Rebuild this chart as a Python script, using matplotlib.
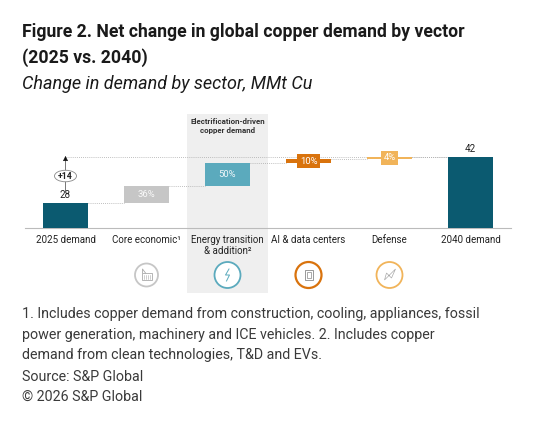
import matplotlib
matplotlib.use("Agg")
import matplotlib.pyplot as plt
from matplotlib.patches import Rectangle, Circle, Polygon, Ellipse
import numpy as np

# ---------------- data ----------------
categories = ["2025 demand", "Core economic\u00b9", "Energy transition\n& addition\u00b2",
              "AI & data centers", "Defense", "2040 demand"]
start_value = 28
end_value = 42
shares_pct = [36, 50, 10, 4]          # share of the net change, per vector
share_labels = ["36%", "50%", "10%", "4%"]
change_label = "+14"

title_lines = ["Figure 2. Net change in global copper demand by vector", "(2025 vs. 2040)"]
subtitle = "Change in demand by sector, MMt Cu"
band_label = "Electrification-driven\ncopper demand"
foot_lines = [
    "1. Includes copper demand from construction, cooling, appliances, fossil",
    "power generation, machinery and ICE vehicles. 2. Includes copper",
    "demand from clean technologies, T&D and EVs.",
    "Source: S&P Global",
    "\u00a9 2026 S&P Global",
]

# ---------------- style ----------------
W, H = 551, 422
DARK = "#0B5A70"
GREY = "#C6C6C6"
TEAL = "#5BAABD"
ORANGE = "#D9730D"
LORANGE = "#F1B45A"
step_colors = [GREY, TEAL, ORANGE, LORANGE]
FONT = "Roboto"

fig = plt.figure(figsize=(W / 100, H / 100), dpi=100)
fig.patch.set_facecolor("white")

def fx(px):
    return px / W

def fy(py):
    return 1 - py / H

# overlay in pixel coordinates
ov = fig.add_axes([0, 0, 1, 1], zorder=0)
ov.set_xlim(0, W)
ov.set_ylim(H, 0)
ov.axis("off")

# main axes
ax_l, ax_r, ax_t, ax_b = 25, 511, 110, 228
ax = fig.add_axes([fx(ax_l), fy(ax_b), (ax_r - ax_l) / W, (ax_b - ax_t) / H], zorder=2)
ax.patch.set_visible(False)
px_per_unit = 3.29
ylo = 20.4
ax.set_ylim(ylo, ylo + (ax_b - ax_t) / px_per_unit)
n = len(categories)
ax.set_xlim(-0.5, n - 0.5)
cat_w = (ax_r - ax_l) / n

def cat_px(i):
    return ax_l + cat_w * (i + 0.5)

# grey band behind energy transition
band_i = 2
ov.add_patch(Rectangle((cat_px(band_i) - cat_w / 2, 114), cat_w, 293 - 114,
                       facecolor="#EFEFEF", edgecolor="none", zorder=0))
ov.text(cat_px(band_i), 118, band_label, ha="center", va="top", fontsize=5.7,
        fontweight="bold", color="#333333", family=FONT, linespacing=1.35)

# waterfall
bw = 0.55
total_change = end_value - start_value
steps = [total_change * s / 100 for s in shares_pct]
ax.bar(0, start_value, width=bw, color=DARK, zorder=3)
ax.bar(n - 1, end_value, width=bw, color=DARK, zorder=3)
level = start_value
levels = [start_value]
for k, (st, c, lab) in enumerate(zip(steps, step_colors, share_labels)):
    i = k + 1
    ax.bar(i, st, bottom=level, width=bw, color=c, zorder=3)
    mid = level + st / 2
    if st > 3:
        ax.text(i, mid, lab, ha="center", va="center", color="white", alpha=0.9,
                fontsize=6.8, family=FONT, zorder=4)
    else:
        ax.text(i, mid, lab, ha="center", va="center", color="white",
                fontsize=6.8, family=FONT, zorder=4,
                bbox=dict(boxstyle="square,pad=0.25", facecolor=c, edgecolor="none"))
    level += st
    levels.append(level)

# dotted connectors
for i in range(n - 1):
    ax.plot([i + bw / 2, i + 1 - bw / 2], [levels[i], levels[i]], color="#AAAAAA",
            lw=0.6, ls=(0, (1, 1.5)), zorder=2)
ax.plot([0, n - 1 - bw / 2], [end_value, end_value], color="#AAAAAA",
        lw=0.6, ls=(0, (1, 1.5)), zorder=2)

# value labels
ax.text(0, start_value + 0.9, str(start_value), ha="center", va="bottom",
        fontsize=7, family=FONT, color="#222222")
ax.text(n - 1, end_value + 1.0, str(end_value), ha="center", va="bottom",
        fontsize=7, family=FONT, color="#222222")

# arrow and +14 badge
ax.annotate("", xy=(0, end_value + 0.3), xytext=(0, start_value + 3.6),
            arrowprops=dict(arrowstyle="-|>,head_length=0.3,head_width=0.15",
                            color="#111111", lw=0.4, shrinkA=0, shrinkB=0), zorder=3)
badge_y = (start_value + end_value) / 2 + 1.2
ax.add_patch(Ellipse((0, badge_y), 22 / cat_w, 11.5 / px_per_unit, facecolor="white",
                     edgecolor="#888888", lw=0.6, zorder=5))
ax.text(0, badge_y, change_label, ha="center", va="center",
        fontsize=6.3, fontweight="bold", family=FONT, color="#222222", zorder=6)

# axes styling
for s in ["left", "right", "top"]:
    ax.spines[s].set_visible(False)
ax.spines["bottom"].set_color("#BBBBBB")
ax.spines["bottom"].set_linewidth(0.8)
ax.set_yticks([])
ax.set_xticks(range(n))
ax.set_xticklabels(categories, fontsize=7, family=FONT, color="#222222", linespacing=1.1)
ax.tick_params(axis="x", length=0, pad=5)

# icons
icon_y = 275
icon_r = 13
icon_cols = [GREY, TEAL, ORANGE, LORANGE]
icon_lws = [1.3, 1.3, 1.6, 1.3]
for k, (c, lw) in enumerate(zip(icon_cols, icon_lws)):
    cx = cat_px(k + 1)
    r = icon_r if k else 11.5
    ov.add_patch(Circle((cx, icon_y), r, facecolor="white", edgecolor=c, lw=lw, zorder=2))
    g = "#AAAAAA"
    if k == 0:  # building
        ov.add_patch(Rectangle((cx - 5, icon_y - 2), 10, 7, fill=False, edgecolor=g, lw=0.6, zorder=3))
        ov.plot([cx - 4, cx - 4, cx - 1], [icon_y - 2, icon_y - 6, icon_y - 2], color=g, lw=0.6, zorder=3)
        for dx in (-3, -1, 1, 3):
            ov.plot([cx + dx, cx + dx], [icon_y, icon_y + 4], color=g, lw=0.4, zorder=3)
    elif k == 1:  # lightning
        ov.plot([cx + 1.5, cx - 2, cx + 2, cx - 1], [icon_y - 6, icon_y, icon_y, icon_y + 6],
                color=TEAL, lw=0.7, zorder=3)
    elif k == 2:  # chip
        ov.add_patch(Rectangle((cx - 4, icon_y - 5), 8, 10, fill=False, edgecolor="#888888", lw=0.6, zorder=3))
        ov.add_patch(Rectangle((cx - 2, icon_y - 3), 4, 6, fill=False, edgecolor="#888888", lw=0.5, zorder=3))
    else:  # jet
        ov.add_patch(Polygon([[cx + 6, icon_y - 6], [cx - 5, icon_y + 5], [cx - 3, icon_y - 2],
                              [cx + 2, icon_y + 3]], closed=True, fill=False, edgecolor=g, lw=0.5, zorder=3))

# titles and footnotes
fig.canvas.draw()
renderer = fig.canvas.get_renderer()

def fitted(x, y, s, target_w, **kw):
    t = ov.text(x, y, s, va="baseline", ha="left", **kw)
    w = t.get_window_extent(renderer).width
    t.set_fontsize(t.get_fontsize() * target_w / w)
    return t

t1 = fitted(22, 37, title_lines[0], 440, fontsize=12, fontweight="bold", family=FONT, color="#1A1A1A")
ov.text(22, 63, title_lines[1], va="baseline", ha="left", fontsize=t1.get_fontsize(),
        fontweight="bold", family=FONT, color="#1A1A1A")
fitted(22, 89, subtitle, 291, fontsize=11, style="italic", family=FONT, color="#1A1A1A")
f1 = fitted(22, 318, foot_lines[0], 462, fontsize=9, family=FONT, color="#3A3A3A")
fs = f1.get_fontsize()
for s, yb in zip(foot_lines[1:], [339, 359, 381, 401]):
    ov.text(22, yb, s, va="baseline", ha="left", fontsize=fs, family=FONT, color="#3A3A3A")

fig.savefig("out.png", dpi=100, facecolor="white")
